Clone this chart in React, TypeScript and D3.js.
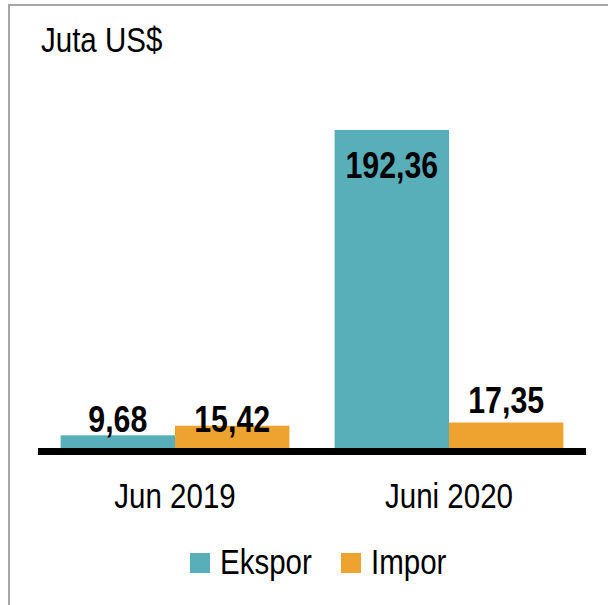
import * as d3 from 'd3';
import { useEffect, useRef } from 'react';

const categories = ['Jun 2019', 'Juni 2020'];
const seriesNames = ['Ekspor', 'Impor'];
const ekspor = [9.68, 192.36];
const impor = [15.42, 17.35];
const labels = [
  ['9,68', '192,36'],
  ['15,42', '17,35'],
];
const colors = ['#59afb9', '#eea331'];

const W = 608;
const H = 605;
const FONT = '"Liberation Sans", Arial, sans-serif';
// the original uses a narrow face; squeeze a regular one horizontally
const NARROW = 0.82;
// how far the small labels of each group sit above the lowest small bar
const smallLabelLift = [3, 10];

export default function App() {
  const svgRef = useRef<SVGSVGElement>(null);

  useEffect(() => {
    if (!svgRef.current) return;
    const svg = d3.select(svgRef.current);
    svg.selectAll('*').remove();

    const baseY = 451.5;
    const values = [ekspor, impor];

    const narrowText = (
      sel: d3.Selection<any, any, any, any>,
      x: number,
      y: number,
      size: number,
      anchor = 'start',
      bold = false
    ) =>
      sel
        .append('text')
        .attr('transform', `translate(${x},${y}) scale(${NARROW},1)`)
        .attr('text-anchor', anchor)
        .style('font-family', FONT)
        .style('font-size', `${size}px`)
        .style('font-weight', bold ? 'bold' : 'normal')
        .attr('fill', '#000');

    const x0 = d3
      .scaleBand<string>()
      .domain(categories)
      .range([38, 586])
      .paddingInner(0.165)
      .paddingOuter(0.0825);
    const x1 = d3.scaleBand<string>().domain(seriesNames).range([0, x0.bandwidth()]);
    const y = d3.scaleLinear().domain([0, 192.36]).range([baseY, 130]);

    // frame
    svg
      .append('path')
      .attr('d', `M9,${H} V5 H${W}`)
      .attr('fill', 'none')
      .attr('stroke', '#a6a6a6')
      .attr('stroke-width', 2);

    // units
    narrowText(svg, 41, 52, 36).text('Juta US$');

    const rows = categories.map((c, ci) => ({
      cat: c,
      ci,
      bars: seriesNames.map((s, si) => ({ s, si, v: values[si][ci], label: labels[si][ci] })),
    }));

    const groups = svg
      .selectAll('g.grp')
      .data(rows)
      .enter()
      .append('g')
      .attr('class', 'grp')
      .attr('transform', (d) => `translate(${x0(d.cat)},0)`);

    groups
      .selectAll('rect')
      .data((d) => d.bars)
      .enter()
      .append('rect')
      .attr('x', (d) => x1(d.s)!)
      .attr('width', x1.bandwidth())
      .attr('y', (d) => y(d.v))
      .attr('height', (d) => baseY - y(d.v))
      .attr('fill', (d) => colors[d.si]);

    // value labels: a tall bar carries its label inside, small ones share a line above
    groups.each(function (d) {
      const g = d3.select(this);
      const small = d.bars.filter((b) => b.v < 100);
      const smallTop = d3.max(small, (b) => y(b.v)) ?? baseY;
      d.bars.forEach((b) => {
        const cx = x1(b.s)! + x1.bandwidth() / 2;
        const ty = b.v >= 100 ? y(b.v) + 47.5 : smallTop - smallLabelLift[d.ci];
        narrowText(g, cx, ty, 37, 'middle', true).text(b.label);
      });
    });

    // baseline
    svg
      .append('line')
      .attr('x1', x0.range()[0])
      .attr('x2', x0.range()[1])
      .attr('y1', baseY)
      .attr('y2', baseY)
      .attr('stroke', '#000')
      .attr('stroke-width', 7);

    // category labels
    categories.forEach((c) => {
      narrowText(svg, x0(c)! + x0.bandwidth() / 2, 508, 36, 'middle').text(c);
    });

    // legend
    const legendX = [190, 341];
    seriesNames.forEach((s, i) => {
      svg
        .append('rect')
        .attr('x', legendX[i])
        .attr('y', 553)
        .attr('width', 20)
        .attr('height', 20)
        .attr('fill', colors[i]);
      narrowText(svg, legendX[i] + 30, 574, 36).text(s);
    });
  }, []);

  return (
    <svg
      ref={svgRef}
      width={W}
      height={H}
      style={{ position: 'absolute', left: 0, top: 0, background: '#fff' }}
    />
  );
}
